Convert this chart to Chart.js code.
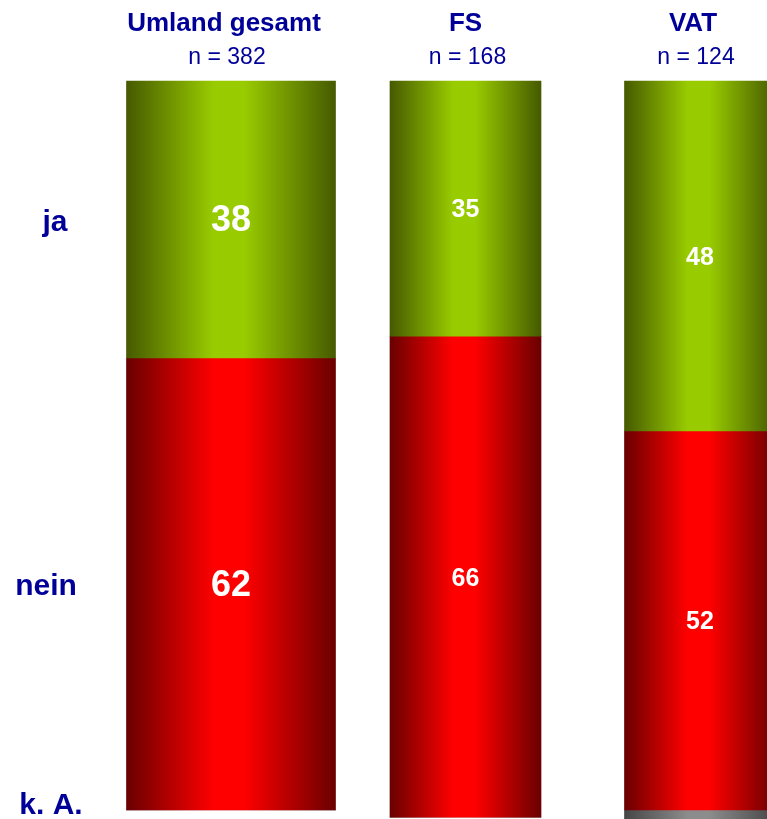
<!doctype html>
<html lang="de">
<head>
    <meta charset="utf-8" />
    <title>Umland gesamt / FS / VAT</title>
    <script src="https://cdn.jsdelivr.net/npm/chart.js@4"></script>
    <style>
        html, body {
            margin: 0;
            padding: 0;
            background: #ffffff;
        }

        .wrap {
            position: relative;
            width: 767px;
            height: 819px;
        }
    </style>
</head>
<body>
    <div class="wrap">
        <canvas id="chart"></canvas>
    </div>

    <script>
        // data
        const groups = ['Umland gesamt', 'FS', 'VAT'];
        const sampleSizes = [382, 168, 124];
        const rowLabels = ['ja', 'nein', 'k. A.'];
        const jaValues = [38, 35, 48];
        const neinValues = [62, 66, 52];
        const kaValues = [0, 0, 2];

        const seriesValues = [jaValues, neinValues, kaValues];

        // styling
        const textBlue = '#000099';
        const fontFamily = '"Liberation Sans", Arial, sans-serif';
        const barWidths = [209, 151, 151];
        const valueFontSizes = [36, 25, 25];
        const titleShift = [-7, 0, -7];
        const countShift = [-4, 2, -4];
        const rowLabelX = [55, 46, 51];
        const palettes = [
            { dark: '#465a00', light: '#99cc00' },
            { dark: '#6a0000', light: '#ff0000' },
            { dark: '#464646', light: '#8c8c8c' }
        ];

        // horizontal "cylinder" gradient across one bar
        function barGradient(context, series, col) {
            const chart = context.chart;
            if (!chart.chartArea) {
                return palettes[series].light;
            }
            const x = chart.scales.x.getPixelForValue(col);
            const half = barWidths[col] / 2;
            const g = chart.ctx.createLinearGradient(x - half, 0, x + half, 0);
            g.addColorStop(0, palettes[series].dark);
            g.addColorStop(0.42, palettes[series].light);
            g.addColorStop(0.56, palettes[series].light);
            g.addColorStop(1, palettes[series].dark);
            return g;
        }

        // one dataset per row and column, so every column can have its own width
        const datasets = [];
        seriesValues.forEach((values, s) => {
            groups.forEach((name, c) => {
                datasets.push({
                    label: rowLabels[s],
                    data: groups.map((_, i) => (i === c ? values[c] : null)),
                    barThickness: barWidths[c],
                    stack: 'all',
                    clip: false,
                    borderWidth: 0,
                    backgroundColor: ctx => barGradient(ctx, s, c),
                    series: s,
                    column: c
                });
            });
        });

        // headers above the bars
        const headerPlugin = {
            id: 'headers',
            afterDraw(chart) {
                const ctx = chart.ctx;
                ctx.save();
                ctx.fillStyle = textBlue;
                ctx.textAlign = 'center';
                ctx.textBaseline = 'alphabetic';
                groups.forEach((name, c) => {
                    const x = chart.scales.x.getPixelForValue(c);
                    ctx.font = 'bold 26px ' + fontFamily;
                    ctx.fillText(name, x + titleShift[c], 31);
                    ctx.font = '23px ' + fontFamily;
                    ctx.fillText('n = ' + sampleSizes[c], x + countShift[c], 64);
                });
                ctx.restore();
            }
        };

        // values inside the segments and row names on the left
        const labelPlugin = {
            id: 'segmentLabels',
            afterDatasetsDraw(chart) {
                const ctx = chart.ctx;
                ctx.save();
                ctx.textAlign = 'center';
                ctx.textBaseline = 'middle';

                chart.data.datasets.forEach((ds, i) => {
                    const c = ds.column;
                    const el = chart.getDatasetMeta(i).data[c];
                    const value = ds.data[c];

                    // row names follow the segments of the first column
                    if (c === 0) {
                        ctx.fillStyle = textBlue;
                        ctx.font = 'bold 30px ' + fontFamily;
                        const y = value > 0 ? (el.y + el.base) / 2 + 3 : el.y - 4;
                        ctx.fillText(rowLabels[ds.series], rowLabelX[ds.series], y);
                    }

                    if (ds.series < 2 && value > 0) {
                        ctx.fillStyle = '#ffffff';
                        ctx.font = 'bold ' + valueFontSizes[c] + 'px ' + fontFamily;
                        ctx.fillText(String(value), el.x, (el.y + el.base) / 2 + 2);
                    }
                });
                ctx.restore();
            }
        };

        new Chart(document.getElementById('chart'), {
            type: 'bar',
            data: {
                labels: groups,
                datasets: datasets
            },
            options: {
                responsive: true,
                maintainAspectRatio: false,
                animation: false,
                layout: {
                    padding: { left: 231, right: 67, top: 81, bottom: 9 }
                },
                plugins: {
                    legend: { display: false },
                    tooltip: { enabled: false }
                },
                scales: {
                    x: {
                        display: false,
                        stacked: true,
                        offset: false
                    },
                    y: {
                        display: false,
                        stacked: true,
                        reverse: true,
                        min: 0,
                        max: 100
                    }
                }
            },
            plugins: [headerPlugin, labelPlugin]
        });
    </script>
</body>
</html>
